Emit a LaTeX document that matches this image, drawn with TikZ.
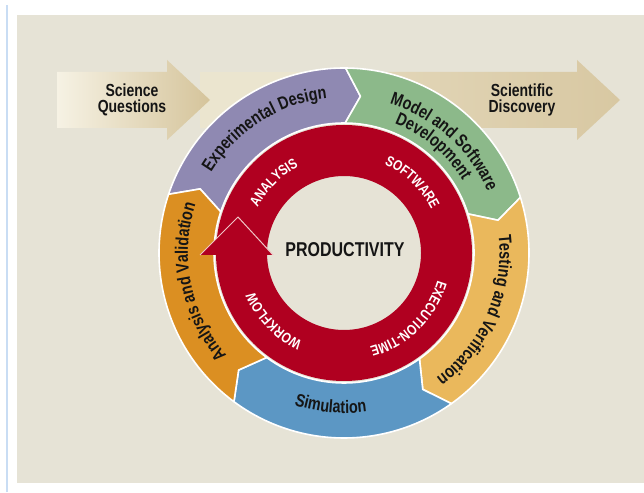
\documentclass[tikz,border=0pt]{standalone}
\usepackage{fontspec}
\newfontfamily\lblfont[FakeStretch=0.8]{Liberation Sans}
\usetikzlibrary{decorations.text}

\definecolor{panel}{HTML}{E6E3D6}
\definecolor{sidebar}{HTML}{C9DDF4}
\definecolor{band}{HTML}{EBE5CF}
\definecolor{arrowlight}{HTML}{F6F2E4}
\definecolor{arrowtan}{HTML}{D5C49B}
\definecolor{arrowtanB}{HTML}{D8C8A2}
\definecolor{arrowmidB}{HTML}{E2D6B8}
\definecolor{segpurple}{HTML}{8F89B2}
\definecolor{seggreen}{HTML}{8CB98A}
\definecolor{segyellow}{HTML}{EAB85C}
\definecolor{segblue}{HTML}{5C97C4}
\definecolor{segorange}{HTML}{DB8F22}
\definecolor{ringred}{HTML}{B00020}
\definecolor{headedge}{HTML}{EFC6C6}
\definecolor{lbltext}{HTML}{151515}

\tikzset{
  segment/.style={draw=white, line width=1.6pt, line join=round},
  arrowtext/.style={font=\lblfont\bfseries\fontsize{17.5}{17.5}\selectfont, text=lbltext, inner sep=0pt},
  outerlbl/.style={decorate, decoration={text along path, text align=center, text color=lbltext,
      text={|\lblfont\bfseries\fontsize{18}{18}\selectfont|#1}}},
  ringlbl/.style={decorate, decoration={text along path, text align=center, text color=white,
      text={|\lblfont\bfseries\fontsize{14.5}{14.5}\selectfont|#1}}},
}

% one band of the outer cycle: chevron tip at the clockwise end, notch at the other
\newcommand\ringseg[3]{%
  \path[segment, fill=#3]
    (#1:185) arc[start angle=#1, end angle=#2, radius=185]
    -- ({#2-5.5}:157.5) -- (#2:130)
    arc[start angle=#2, end angle=#1, radius=130]
    -- ({#1-5.5}:157.5) -- cycle;
}

\begin{document}
\begin{tikzpicture}[x=1pt,y=1pt]
\useasboundingbox (0,0) rectangle (644,492);
\fill[white] (0,0) rectangle (644,492);
\draw[sidebar, line width=1.2pt] (7,0) -- (7,487);
\fill[panel] (17,9) rectangle (644,477);

% the flow band behind the cycle
\fill[band] (200,364) rectangle (400,420);
\shade[left color=arrowlight, right color=arrowtan]
  (57,364) -- (167,364) -- (167,352) -- (210,392) -- (167,432) -- (167,420) -- (57,420) -- cycle;
\shade[left color=arrowmidB, right color=arrowtanB]
  (380,364) -- (577,364) -- (577,352) -- (620,392) -- (577,432) -- (577,420) -- (380,420) -- cycle;

\node[arrowtext, anchor=base] (sq1) at (132,395.3) {Science};
\node[arrowtext, anchor=base] (sq2) at (132,379) {Questions};
\node[arrowtext, anchor=base] (sd1) at (522,395.3) {Scientific};
\node[arrowtext, anchor=base] (sd2) at (522,379) {Discovery};

\begin{scope}[shift={(344,239)}]
  % outer cycle
  \ringseg{161.5}{89.5}{segpurple}
  \ringseg{89.5}{17.5}{seggreen}
  \ringseg{17.5}{-54.5}{segyellow}
  \ringseg{-54.5}{-126.5}{segblue}
  \ringseg{-126.5}{-198.5}{segorange}

  % red productivity ring with its arrowhead
  \fill[ringred, even odd rule] (0,0) circle (128) (0,0) circle (77);
  \fill[ringred] (-144,-2) -- (-106,36) -- (-71,-2) -- cycle;
  \draw[headedge, line width=1pt, line join=round] (-144,-2) -- (-106,36) -- (-71,-2);

  \node[font=\lblfont\bfseries\fontsize{20}{20}\selectfont, text=lbltext, anchor=base, inner sep=0pt]
    (prod) at (1,-4) {PRODUCTIVITY};

  % labels of the outer cycle
  \path[outerlbl={Experimental Design}] (182.5:155.5) arc[start angle=182.5, end angle=62.5, radius=155.5];
  \path[outerlbl={Model and Software}] (108:156) arc[start angle=108, end angle=-12, radius=156];
  \path[outerlbl={Development}] (110:139) arc[start angle=110, end angle=-10, radius=139];
  \path[outerlbl={Testing and Verification}] (36.5:155.5) arc[start angle=36.5, end angle=-83.5, radius=155.5];
  \path[outerlbl={Simulation}] (-155:160) arc[start angle=-155, end angle=-35, radius=160];
  \path[outerlbl={Analysis and Validation}] (251.5:156) arc[start angle=251.5, end angle=131.5, radius=156];

  % labels on the red ring
  \path[ringlbl={ANALYSIS}] (195:97.5) arc[start angle=195, end angle=75, radius=97.5];
  \path[ringlbl={SOFTWARE}] (106:97.5) arc[start angle=106, end angle=-14, radius=97.5];
  \path[ringlbl={EXECUTION-TIME}] (14.5:97.5) arc[start angle=14.5, end angle=-105.5, radius=97.5];
  \path[ringlbl={WORKFLOW}] (-76:97.5) arc[start angle=-76, end angle=-196, radius=97.5];
\end{scope}
\end{tikzpicture}
\end{document}
